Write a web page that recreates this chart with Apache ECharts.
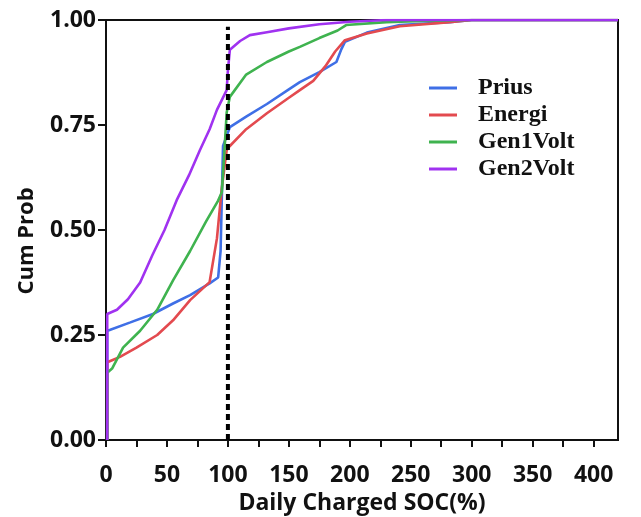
<!DOCTYPE html>
<html><head><meta charset="utf-8">
<script src="https://cdn.jsdelivr.net/npm/echarts@6/dist/echarts.min.js"></script>
<style>html,body{margin:0;padding:0;background:#fff}#c{width:641px;height:517px}</style>
</head><body><div id="c"></div>
<script>
const seriesNames = ['Prius','Energi','Gen1Volt','Gen2Volt'];
const colors = ['#3f6fe6','#e34a4f','#3fb34f','#a032f0'];
const priusX = [1,1,3,20,38.5,55,69,85,92,94,96,101.6,115,132,150,159,175,189,193,196,214,241,282,300,420];
const priusY = [0,0.26,0.262,0.28,0.30,0.325,0.345,0.373,0.387,0.45,0.70,0.745,0.77,0.80,0.835,0.852,0.876,0.90,0.93,0.948,0.97,0.988,0.995,1,1];
const energiX = [1,1,5,11.5,25,42,55,69,85,91,95,99,101.6,115,132,150,159,170,180,188,196,214,241,282,300,420];
const energiY = [0,0.185,0.19,0.198,0.22,0.25,0.285,0.333,0.376,0.48,0.60,0.69,0.70,0.74,0.778,0.815,0.833,0.855,0.89,0.925,0.952,0.968,0.985,0.995,1,1];
const gen1X = [1,1,5,14,28,42,55,69,82,92,95,97,99,101.6,115,132,150,159,175,190,197,230,260,300,420];
const gen1Y = [0,0.16,0.17,0.22,0.26,0.31,0.38,0.45,0.52,0.57,0.59,0.68,0.78,0.817,0.87,0.90,0.925,0.936,0.957,0.975,0.988,0.995,0.998,1,1];
const gen2X = [1,1,9,18,28,38,48,58,68,77,85,91,99,100,101.6,110,118,132,150,175,200,230,420];
const gen2Y = [0,0.30,0.31,0.335,0.375,0.44,0.50,0.571,0.63,0.69,0.74,0.786,0.833,0.88,0.929,0.95,0.964,0.971,0.98,0.99,0.996,1,1];
const refLine = [[100,0],[100,0.984]];
const xTicks = [0,50,100,150,200,250,300,350,400];
const yTicks = [0,0.25,0.5,0.75,1];

const allX = [priusX, energiX, gen1X, gen2X];
const allY = [priusY, energiY, gen1Y, gen2Y];
const tickFont = {fontFamily:'Open Sans', fontWeight:'bold', fontSize:23, color:'#111'};

const series = seriesNames.map((n,k)=>({
  name:n, type:'line', showSymbol:false, animation:false,
  data: allX[k].map((x,i)=>[x, allY[k][i]]),
  lineStyle:{width:2.6, color:colors[k]}, itemStyle:{color:colors[k]}
}));
series.push({
  name:'ref', type:'line', showSymbol:false, animation:false, data:refLine,
  lineStyle:{width:4, color:'#000', type:[6,4]}, z:5
});

const chart = echarts.init(document.getElementById('c'));
chart.setOption({
  animation:false,
  grid:{left:106, right:23, top:20, bottom:77, outerBoundsMode:'none', containLabel:false, show:true, borderColor:'#111', borderWidth:2, backgroundColor:'transparent'},
  xAxis:{type:'value', min:0, max:420, interval:25,
    axisLine:{show:true, lineStyle:{color:'#111', width:2}},
    axisTick:{show:true, length:7, lineStyle:{color:'#111', width:2}},
    axisLabel:{...tickFont, margin:24, showMaxLabel:false, formatter:v=> xTicks.includes(v)? String(v):''},
    splitLine:{show:false},
    name:'Daily Charged SOC(%)', nameLocation:'middle', nameGap:51,
    nameTextStyle:{fontFamily:'Open Sans', fontWeight:'bold', fontSize:23, color:'#111'}
  },
  yAxis:{type:'value', min:0, max:1, interval:0.25,
    axisLine:{show:true, lineStyle:{color:'#111', width:2}},
    axisTick:{show:true, length:8, lineStyle:{color:'#111', width:2}},
    axisLabel:{...tickFont, margin:10, formatter:v=> yTicks.includes(v)? v.toFixed(2):''},
    splitLine:{show:false},
    name:'Cum Prob', nameLocation:'middle', nameGap:68, nameRotate:90,
    nameTextStyle:{fontFamily:'Open Sans', fontWeight:'bold', fontSize:22, color:'#111', padding:[0,22,0,0]}
  },
  legend:{data:seriesNames, orient:'vertical', left:424, top:71, icon:'rect',
    itemWidth:28, itemHeight:3, itemGap:3,
    textStyle:{fontFamily:'Liberation Serif', fontWeight:'bold', fontSize:24, lineHeight:24, color:'#111', padding:[0,0,0,16]}
  },
  series
});
</script></body></html>
